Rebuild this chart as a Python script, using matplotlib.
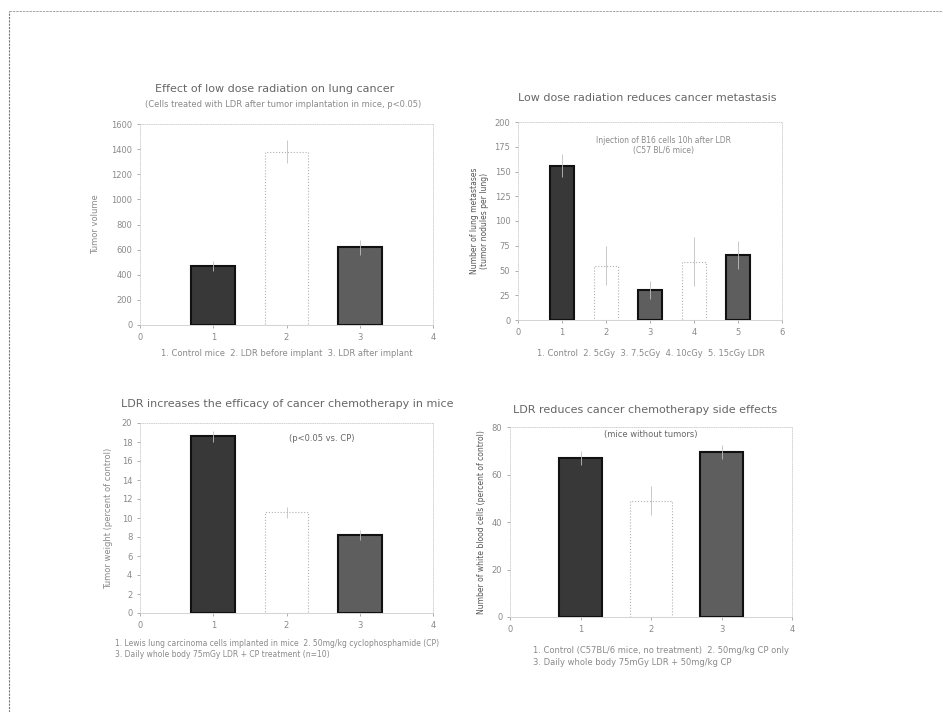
import matplotlib
matplotlib.use("Agg")
import matplotlib.pyplot as plt
from matplotlib.lines import Line2D

# ---- panel A: tumour volume ----
a_x = [1, 2, 3]
a_vals = [470, 1380, 620]
a_err = [40, 90, 60]
a_yticks = [0, 200, 400, 600, 800, 1000, 1200, 1400, 1600]
a_title = "Effect of low dose radiation on lung cancer"
a_sub = "(Cells treated with LDR after tumor implantation in mice, p<0.05)"
a_ylabel = "Tumor volume"
a_caption = ["1. Control mice  2. LDR before implant  3. LDR after implant"]

# ---- panel B: metastasis ----
b_x = [1, 2, 3, 4, 5]
b_vals = [156, 55, 30, 59, 66]
b_err = [12, 20, 9, 25, 14]
b_yticks = [0, 25, 50, 75, 100, 125, 150, 175, 200]
b_title = "Low dose radiation reduces cancer metastasis"
b_note = "Injection of B16 cells 10h after LDR\n(C57 BL/6 mice)"
b_ylabel = "Number of lung metastases\n(tumor nodules per lung)"
b_caption = ["1. Control  2. 5cGy  3. 7.5cGy  4. 10cGy  5. 15cGy LDR"]

# ---- panel C: chemotherapy efficacy ----
c_x = [1, 2, 3]
c_vals = [18.6, 10.6, 8.2]
c_err = [0.6, 0.6, 0.5]
c_yticks = [0, 2, 4, 6, 8, 10, 12, 14, 16, 18, 20]
c_title = "LDR increases the efficacy of cancer chemotherapy in mice"
c_note = "(p<0.05 vs. CP)"
c_ylabel = "Tumor weight (percent of control)"
c_caption = ["1. Lewis lung carcinoma cells implanted in mice  2. 50mg/kg cyclophosphamide (CP)",
             "3. Daily whole body 75mGy LDR + CP treatment (n=10)"]

# ---- panel D: chemotherapy side effects ----
d_x = [1, 2, 3]
d_vals = [67, 49, 69.5]
d_err = [3, 6, 3]
d_yticks = [0, 20, 40, 60, 80]
d_title = "LDR reduces cancer chemotherapy side effects"
d_note = "(mice without tumors)"
d_ylabel = "Number of white blood cells (percent of control)"
d_caption = ["1. Control (C57BL/6 mice, no treatment)  2. 50mg/kg CP only",
             "3. Daily whole body 75mGy LDR + 50mg/kg CP"]

TXT = "#8a8a8a"
DARK = "#383838"
MID = "#5e5e5e"


def style_axis(ax, yticks, xmax):
    ax.set_xlim(0, xmax)
    ax.set_xticks(range(0, xmax + 1))
    ax.set_ylim(yticks[0], yticks[-1])
    ax.set_yticks(yticks)
    ax.tick_params(labelsize=6, colors=TXT, length=2, width=0.5)
    for s in ax.spines.values():
        s.set_color("#cccccc")
        s.set_linewidth(0.6)
        s.set_linestyle(":")
    ax.spines["bottom"].set_linestyle("-")


def draw_bars(ax, x, vals, err, colors, width=0.6):
    for xi, v, e, c in zip(x, vals, err, colors):
        if c == "white":
            ax.bar(xi, v, width=width, color="white", edgecolor="#b0b0b0",
                   linewidth=0.8, linestyle=":")
        else:
            ax.bar(xi, v, width=width, color=c, edgecolor="#111111", linewidth=1.5)
        ax.errorbar(xi, v, yerr=e, fmt="none", ecolor="#c0c0c0", elinewidth=0.6, capsize=0)


fig = plt.figure(figsize=(9.43, 7.12), dpi=100)
W, H = 943, 712


def add_ax(x0, y0, x1, y1):
    return fig.add_axes([x0 / W, 1 - y1 / H, (x1 - x0) / W, (y1 - y0) / H])


# panel A
ax = add_ax(140, 124, 433, 325)
draw_bars(ax, a_x, a_vals, a_err, [DARK, "white", MID])
style_axis(ax, a_yticks, 4)
ax.set_ylabel(a_ylabel, fontsize=6, color=TXT, labelpad=8)
fig.text(275 / W, 1 - 92 / H, a_title, ha="center", fontsize=8, color="#666666")
fig.text(283 / W, 1 - 107 / H, a_sub, ha="center", fontsize=6, color=TXT)
fig.text(287 / W, 1 - 356 / H, a_caption[0], ha="center", fontsize=6, color=TXT)

# panel B
ax = add_ax(518, 122, 782, 320)
draw_bars(ax, b_x, b_vals, b_err, [DARK, "white", MID, "white", MID], width=0.55)
style_axis(ax, b_yticks, 6)
ax.set_ylabel(b_ylabel, fontsize=5.5, color="#555555")
ax.text(0.55, 0.88, b_note, transform=ax.transAxes, ha="center", va="center",
        fontsize=5.5, color=TXT)
fig.text(647 / W, 1 - 101 / H, b_title, ha="center", fontsize=8, color="#666666")
fig.text(651 / W, 1 - 356 / H, b_caption[0], ha="center", fontsize=6, color=TXT)

# panel C
ax = add_ax(140, 423, 433, 613)
draw_bars(ax, c_x, c_vals, c_err, [DARK, "white", MID])
style_axis(ax, c_yticks, 4)
ax.set_ylabel(c_ylabel, fontsize=6, color=TXT, labelpad=6)
ax.text(0.62, 0.92, c_note, transform=ax.transAxes, ha="center", va="center",
        fontsize=6, color="#666666")
fig.text(287 / W, 1 - 407 / H, c_title, ha="center", fontsize=8, color="#666666")
fig.text(115 / W, 1 - 646 / H, c_caption[0], ha="left", fontsize=5.5, color=TXT)
fig.text(115 / W, 1 - 657 / H, c_caption[1], ha="left", fontsize=5.5, color=TXT)

# panel D
ax = add_ax(510, 427, 792, 617)
draw_bars(ax, d_x, d_vals, d_err, [DARK, "white", MID])
style_axis(ax, d_yticks, 4)
ax.set_ylabel(d_ylabel, fontsize=5.5, color="#555555")
ax.text(0.5, 0.96, d_note, transform=ax.transAxes, ha="center", va="center",
        fontsize=6, color="#666666")
fig.text(645 / W, 1 - 413 / H, d_title, ha="center", fontsize=8, color="#666666")
fig.text(533 / W, 1 - 653 / H, d_caption[0], ha="left", fontsize=6, color=TXT)
fig.text(533 / W, 1 - 665 / H, d_caption[1], ha="left", fontsize=6, color=TXT)

# scanned page frame (left and top edges)
fig.add_artist(Line2D([9 / W, 9 / W], [0, 1 - 11 / H], transform=fig.transFigure,
                      color="#777777", linewidth=0.8, linestyle=(0, (2, 1))))
fig.add_artist(Line2D([9 / W, 1], [1 - 11 / H, 1 - 11 / H], transform=fig.transFigure,
                      color="#999999", linewidth=0.6, linestyle=(0, (3, 1))))

fig.savefig("out.png", dpi=100)
